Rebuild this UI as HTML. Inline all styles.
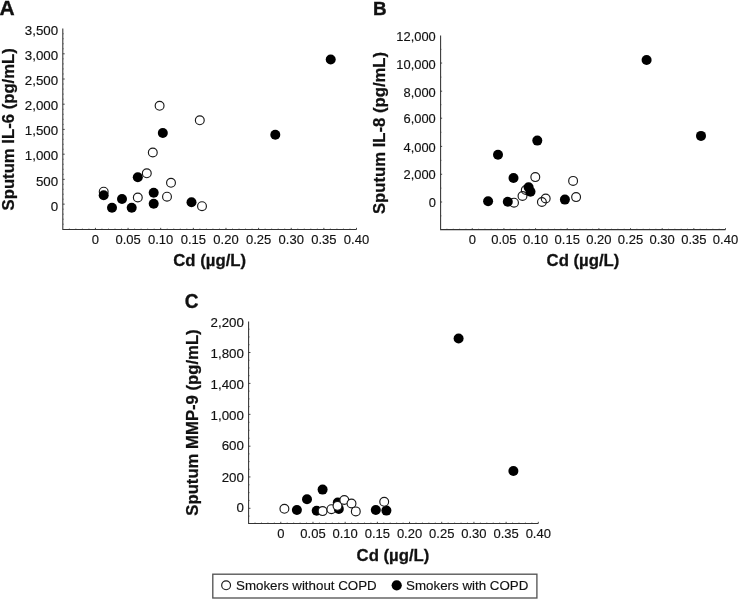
<!DOCTYPE html>
<html lang="en">
<head>
<meta charset="utf-8">
<title>Figure</title>
<style>
html,body{margin:0;padding:0;background:#fff;}
body{width:738px;height:599px;overflow:hidden;}
svg{display:block;font-family:'Liberation Sans', Arial, Helvetica, sans-serif;}
</style>
</head>
<body>
<svg width="738" height="599" viewBox="0 0 738 599">
<rect width="738" height="599" fill="#fff"/>
<g>
<text transform="translate(-0.5 14.8) scale(1.0 1)" font-size="21" font-weight="bold" fill="#111" stroke="#111" stroke-width="0.35">A</text>
<path d="M62.8 28.4V229.55H356.5" fill="none" stroke="#333" stroke-width="1.05"/>
<path d="M95.43 229.55v-1.70M128.07 229.55v-1.70M160.70 229.55v-1.70M193.33 229.55v-1.70M225.97 229.55v-1.70M258.60 229.55v-1.70M291.23 229.55v-1.70M323.87 229.55v-1.70M356.50 229.55v-1.70" stroke="#333" stroke-width="0.9" fill="none"/>
<path d="M69.33 229.55v-1.19M75.85 229.55v-1.19M82.38 229.55v-1.19M88.91 229.55v-1.19M101.96 229.55v-1.19M108.49 229.55v-1.19M115.01 229.55v-1.19M121.54 229.55v-1.19M134.59 229.55v-1.19M141.12 229.55v-1.19M147.65 229.55v-1.19M154.17 229.55v-1.19M167.23 229.55v-1.19M173.75 229.55v-1.19M180.28 229.55v-1.19M186.81 229.55v-1.19M199.86 229.55v-1.19M206.39 229.55v-1.19M212.91 229.55v-1.19M219.44 229.55v-1.19M232.49 229.55v-1.19M239.02 229.55v-1.19M245.55 229.55v-1.19M252.07 229.55v-1.19M265.13 229.55v-1.19M271.65 229.55v-1.19M278.18 229.55v-1.19M284.71 229.55v-1.19M297.76 229.55v-1.19M304.29 229.55v-1.19M310.81 229.55v-1.19M317.34 229.55v-1.19M330.39 229.55v-1.19M336.92 229.55v-1.19M343.45 229.55v-1.19M349.97 229.55v-1.19" stroke="#333" stroke-width="0.8" fill="none" opacity="0.6"/>
<path d="M62.8 53.80h1.87M62.8 79.00h1.87M62.8 104.20h1.87M62.8 129.40h1.87M62.8 154.20h1.87M62.8 179.35h1.87M62.8 204.15h1.87" stroke="#333" stroke-width="0.9" fill="none"/>
<path d="M62.8 33.75h1.19M62.8 38.76h1.19M62.8 43.78h1.19M62.8 48.79h1.19M62.8 58.84h1.19M62.8 63.88h1.19M62.8 68.92h1.19M62.8 73.96h1.19M62.8 84.04h1.19M62.8 89.08h1.19M62.8 94.12h1.19M62.8 99.16h1.19M62.8 109.24h1.19M62.8 114.28h1.19M62.8 119.32h1.19M62.8 124.36h1.19M62.8 134.36h1.19M62.8 139.32h1.19M62.8 144.28h1.19M62.8 149.24h1.19M62.8 159.23h1.19M62.8 164.26h1.19M62.8 169.29h1.19M62.8 174.32h1.19M62.8 184.31h1.19M62.8 189.27h1.19M62.8 194.23h1.19M62.8 199.19h1.19M62.8 209.16h1.19M62.8 214.17h1.19M62.8 219.19h1.19M62.8 224.20h1.19" stroke="#333" stroke-width="0.8" fill="none" opacity="0.6"/>
<g font-size="13.33" text-anchor="end" fill="#111" stroke="#111" stroke-width="0.15">
<text x="58.2" y="34.60">3,500</text>
<text x="58.2" y="59.80">3,000</text>
<text x="58.2" y="85.10">2,500</text>
<text x="58.2" y="110.45">2,000</text>
<text x="58.2" y="135.45">1,500</text>
<text x="58.2" y="160.45">1,000</text>
<text x="58.2" y="185.80">500</text>
<text x="58.2" y="210.60">0</text>
</g>
<g font-size="13.0" text-anchor="middle" fill="#111" stroke="#111" stroke-width="0.15">
<text x="95.43" y="244.0">0</text>
<text x="128.07" y="244.0">0.05</text>
<text x="160.70" y="244.0">0.10</text>
<text x="193.33" y="244.0">0.15</text>
<text x="225.97" y="244.0">0.20</text>
<text x="258.60" y="244.0">0.25</text>
<text x="291.23" y="244.0">0.30</text>
<text x="323.87" y="244.0">0.35</text>
<text x="356.50" y="244.0">0.40</text>
</g>
<text transform="translate(14.3 129.3) rotate(-90) scale(1 1.0)" font-size="16.7" font-weight="bold" text-anchor="middle" fill="#111" stroke="#111" stroke-width="0.25">Sputum IL-6 (pg/mL)</text>
<text transform="translate(209.7 265.6) scale(1.07 1)" font-size="15.65" font-weight="bold" text-anchor="middle" fill="#111" stroke="#111" stroke-width="0.25">Cd (µg/L)</text>
<circle cx="103.7" cy="191.7" r="4.42" fill="none" stroke="#1a1a1a" stroke-width="1.15"/>
<circle cx="137.8" cy="197.5" r="4.42" fill="none" stroke="#1a1a1a" stroke-width="1.15"/>
<circle cx="146.8" cy="173.3" r="4.42" fill="none" stroke="#1a1a1a" stroke-width="1.15"/>
<circle cx="152.8" cy="152.5" r="4.42" fill="none" stroke="#1a1a1a" stroke-width="1.15"/>
<circle cx="167" cy="196.7" r="4.42" fill="none" stroke="#1a1a1a" stroke-width="1.15"/>
<circle cx="171" cy="182.8" r="4.42" fill="none" stroke="#1a1a1a" stroke-width="1.15"/>
<circle cx="159.6" cy="105.8" r="4.42" fill="none" stroke="#1a1a1a" stroke-width="1.15"/>
<circle cx="199.8" cy="120.3" r="4.42" fill="none" stroke="#1a1a1a" stroke-width="1.15"/>
<circle cx="202" cy="206.2" r="4.42" fill="none" stroke="#1a1a1a" stroke-width="1.15"/>
<circle cx="103.7" cy="195.3" r="5.0" fill="#000"/>
<circle cx="112" cy="207.8" r="5.0" fill="#000"/>
<circle cx="122" cy="199" r="5.0" fill="#000"/>
<circle cx="131.7" cy="207.8" r="5.0" fill="#000"/>
<circle cx="137.8" cy="177.2" r="5.0" fill="#000"/>
<circle cx="153.7" cy="192.8" r="5.0" fill="#000"/>
<circle cx="153.7" cy="203.8" r="5.0" fill="#000"/>
<circle cx="162.8" cy="133" r="5.0" fill="#000"/>
<circle cx="330.7" cy="59.5" r="5.0" fill="#000"/>
<circle cx="275.3" cy="134.8" r="5.0" fill="#000"/>
<circle cx="191.5" cy="202.3" r="5.0" fill="#000"/>
</g>
<g>
<text transform="translate(373.1 14.8) scale(1.03 1)" font-size="18.3" font-weight="bold" fill="#111" stroke="#111" stroke-width="0.35">B</text>
<path d="M440.6 35.6V229.6H725.5" fill="none" stroke="#333" stroke-width="1.05"/>
<path d="M472.26 229.6v-1.40M503.91 229.6v-1.40M535.57 229.6v-1.40M567.22 229.6v-1.40M598.88 229.6v-1.40M630.53 229.6v-1.40M662.19 229.6v-1.40M693.84 229.6v-1.40M725.50 229.6v-1.40" stroke="#333" stroke-width="0.9" fill="none"/>
<path d="M446.93 229.6v-0.98M453.26 229.6v-0.98M459.59 229.6v-0.98M465.92 229.6v-0.98M478.59 229.6v-0.98M484.92 229.6v-0.98M491.25 229.6v-0.98M497.58 229.6v-0.98M510.24 229.6v-0.98M516.57 229.6v-0.98M522.90 229.6v-0.98M529.24 229.6v-0.98M541.90 229.6v-0.98M548.23 229.6v-0.98M554.56 229.6v-0.98M560.89 229.6v-0.98M573.55 229.6v-0.98M579.88 229.6v-0.98M586.22 229.6v-0.98M592.55 229.6v-0.98M605.21 229.6v-0.98M611.54 229.6v-0.98M617.87 229.6v-0.98M624.20 229.6v-0.98M636.86 229.6v-0.98M643.20 229.6v-0.98M649.53 229.6v-0.98M655.86 229.6v-0.98M668.52 229.6v-0.98M674.85 229.6v-0.98M681.18 229.6v-0.98M687.51 229.6v-0.98M700.18 229.6v-0.98M706.51 229.6v-0.98M712.84 229.6v-0.98M719.17 229.6v-0.98" stroke="#333" stroke-width="0.8" fill="none" opacity="0.6"/>
<path d="M440.6 63.05h1.54M440.6 91.20h1.54M440.6 118.20h1.54M440.6 146.40h1.54M440.6 174.27h1.54M440.6 202.00h1.54" stroke="#333" stroke-width="0.9" fill="none"/>
<path d="M440.6 49.33h0.98M440.6 77.12h0.98M440.6 104.70h0.98M440.6 132.30h0.98M440.6 160.34h0.98M440.6 188.13h0.98M440.6 215.87h0.98" stroke="#333" stroke-width="0.8" fill="none" opacity="0.6"/>
<g font-size="12.9" text-anchor="end" fill="#111" stroke="#111" stroke-width="0.15">
<text x="435.8" y="40.80">12,000</text>
<text x="435.8" y="68.85">10,000</text>
<text x="435.8" y="96.60">8,000</text>
<text x="435.8" y="123.45">6,000</text>
<text x="435.8" y="151.60">4,000</text>
<text x="435.8" y="179.25">2,000</text>
<text x="435.8" y="207.45">0</text>
</g>
<g font-size="13.0" text-anchor="middle" fill="#111" stroke="#111" stroke-width="0.15">
<text x="472.26" y="244.0">0</text>
<text x="503.91" y="244.0">0.05</text>
<text x="535.57" y="244.0">0.10</text>
<text x="567.22" y="244.0">0.15</text>
<text x="598.88" y="244.0">0.20</text>
<text x="630.53" y="244.0">0.25</text>
<text x="662.19" y="244.0">0.30</text>
<text x="693.84" y="244.0">0.35</text>
<text x="725.50" y="244.0">0.40</text>
</g>
<text transform="translate(385.3 133.0) rotate(-90) scale(1 1.0)" font-size="16.7" font-weight="bold" text-anchor="middle" fill="#111" stroke="#111" stroke-width="0.25">Sputum IL-8 (pg/mL)</text>
<text transform="translate(583 266.1) scale(1.07 1)" font-size="15.65" font-weight="bold" text-anchor="middle" fill="#111" stroke="#111" stroke-width="0.25">Cd (µg/L)</text>
<circle cx="535.3" cy="177.1" r="4.42" fill="none" stroke="#1a1a1a" stroke-width="1.15"/>
<circle cx="525.8" cy="190" r="4.42" fill="none" stroke="#1a1a1a" stroke-width="1.15"/>
<circle cx="522.5" cy="196" r="4.42" fill="none" stroke="#1a1a1a" stroke-width="1.15"/>
<circle cx="514" cy="202.7" r="4.42" fill="none" stroke="#1a1a1a" stroke-width="1.15"/>
<circle cx="541.9" cy="202" r="4.42" fill="none" stroke="#1a1a1a" stroke-width="1.15"/>
<circle cx="545.7" cy="198.5" r="4.42" fill="none" stroke="#1a1a1a" stroke-width="1.15"/>
<circle cx="573.1" cy="180.9" r="4.42" fill="none" stroke="#1a1a1a" stroke-width="1.15"/>
<circle cx="576.1" cy="197.1" r="4.42" fill="none" stroke="#1a1a1a" stroke-width="1.15"/>
<circle cx="537.3" cy="140.6" r="5.0" fill="#000"/>
<circle cx="498" cy="154.8" r="5.0" fill="#000"/>
<circle cx="513.5" cy="178" r="5.0" fill="#000"/>
<circle cx="528.6" cy="187.3" r="5.0" fill="#000"/>
<circle cx="530.5" cy="191.8" r="5.0" fill="#000"/>
<circle cx="488.1" cy="201.2" r="5.0" fill="#000"/>
<circle cx="507.8" cy="201.7" r="5.0" fill="#000"/>
<circle cx="646.6" cy="60.0" r="5.0" fill="#000"/>
<circle cx="701.0" cy="135.9" r="5.0" fill="#000"/>
<circle cx="564.9" cy="199.6" r="5.0" fill="#000"/>
</g>
<g>
<text transform="translate(184.7 308.15) scale(0.96 1)" font-size="19.8" font-weight="bold" fill="#111" stroke="#111" stroke-width="0.35">C</text>
<path d="M248.6 321.4V523.5H538.3" fill="none" stroke="#333" stroke-width="1.05"/>
<path d="M280.79 523.5v-1.70M312.98 523.5v-1.70M345.17 523.5v-1.70M377.36 523.5v-1.70M409.54 523.5v-1.70M441.73 523.5v-1.70M473.92 523.5v-1.70M506.11 523.5v-1.70M538.30 523.5v-1.70" stroke="#333" stroke-width="0.9" fill="none"/>
<path d="M255.04 523.5v-1.19M261.48 523.5v-1.19M267.91 523.5v-1.19M274.35 523.5v-1.19M287.23 523.5v-1.19M293.66 523.5v-1.19M300.10 523.5v-1.19M306.54 523.5v-1.19M319.42 523.5v-1.19M325.85 523.5v-1.19M332.29 523.5v-1.19M338.73 523.5v-1.19M351.60 523.5v-1.19M358.04 523.5v-1.19M364.48 523.5v-1.19M370.92 523.5v-1.19M383.79 523.5v-1.19M390.23 523.5v-1.19M396.67 523.5v-1.19M403.11 523.5v-1.19M415.98 523.5v-1.19M422.42 523.5v-1.19M428.86 523.5v-1.19M435.30 523.5v-1.19M448.17 523.5v-1.19M454.61 523.5v-1.19M461.05 523.5v-1.19M467.48 523.5v-1.19M480.36 523.5v-1.19M486.80 523.5v-1.19M493.24 523.5v-1.19M499.67 523.5v-1.19M512.55 523.5v-1.19M518.99 523.5v-1.19M525.42 523.5v-1.19M531.86 523.5v-1.19" stroke="#333" stroke-width="0.8" fill="none" opacity="0.6"/>
<path d="M248.6 352.50h1.87M248.6 383.40h1.87M248.6 414.35h1.87M248.6 446.20h1.87M248.6 476.95h1.87M248.6 508.30h1.87" stroke="#333" stroke-width="0.9" fill="none"/>
<path d="M248.6 329.17h1.19M248.6 336.95h1.19M248.6 344.73h1.19M248.6 360.23h1.19M248.6 367.95h1.19M248.6 375.67h1.19M248.6 391.14h1.19M248.6 398.88h1.19M248.6 406.61h1.19M248.6 422.31h1.19M248.6 430.27h1.19M248.6 438.24h1.19M248.6 453.89h1.19M248.6 461.57h1.19M248.6 469.26h1.19M248.6 484.79h1.19M248.6 492.62h1.19M248.6 500.46h1.19M248.6 516.09h1.19" stroke="#333" stroke-width="0.8" fill="none" opacity="0.6"/>
<g font-size="13.33" text-anchor="end" fill="#111" stroke="#111" stroke-width="0.15">
<text x="243.9" y="326.60">2,200</text>
<text x="243.9" y="358.35">1,800</text>
<text x="243.9" y="389.45">1,400</text>
<text x="243.9" y="420.00">1,000</text>
<text x="243.9" y="449.65">600</text>
<text x="243.9" y="481.60">200</text>
<text x="243.9" y="512.35">0</text>
</g>
<g font-size="13.0" text-anchor="middle" fill="#111" stroke="#111" stroke-width="0.15">
<text x="280.79" y="538.2">0</text>
<text x="312.98" y="538.2">0.05</text>
<text x="345.17" y="538.2">0.10</text>
<text x="377.36" y="538.2">0.15</text>
<text x="409.54" y="538.2">0.20</text>
<text x="441.73" y="538.2">0.25</text>
<text x="473.92" y="538.2">0.30</text>
<text x="506.11" y="538.2">0.35</text>
<text x="538.30" y="538.2">0.40</text>
</g>
<text transform="translate(197.6 422.5) rotate(-90) scale(1 1.0)" font-size="16.7" font-weight="bold" text-anchor="middle" fill="#111" stroke="#111" stroke-width="0.25">Sputum MMP-9 (pg/mL)</text>
<text transform="translate(393 560.7) scale(1.07 1)" font-size="15.65" font-weight="bold" text-anchor="middle" fill="#111" stroke="#111" stroke-width="0.25">Cd (µg/L)</text>
<circle cx="284.4" cy="508.8" r="4.42" fill="#fff" stroke="#1a1a1a" stroke-width="1.15"/>
<circle cx="296.9" cy="510" r="5.0" fill="#000"/>
<circle cx="307" cy="499.3" r="5.0" fill="#000"/>
<circle cx="316.7" cy="510.8" r="5.0" fill="#000"/>
<circle cx="322.6" cy="511.1" r="4.42" fill="#fff" stroke="#1a1a1a" stroke-width="1.15"/>
<circle cx="322.6" cy="489.6" r="5.0" fill="#000"/>
<circle cx="331.4" cy="509.2" r="4.42" fill="#fff" stroke="#1a1a1a" stroke-width="1.15"/>
<circle cx="337.8" cy="502.5" r="5.0" fill="#000"/>
<circle cx="338.8" cy="508.9" r="5.0" fill="#000"/>
<circle cx="337.5" cy="505.8" r="4.42" fill="#fff" stroke="#1a1a1a" stroke-width="1.15"/>
<circle cx="344.3" cy="500" r="4.42" fill="#fff" stroke="#1a1a1a" stroke-width="1.15"/>
<circle cx="351.5" cy="503.5" r="4.42" fill="#fff" stroke="#1a1a1a" stroke-width="1.15"/>
<circle cx="355.8" cy="511.4" r="4.42" fill="#fff" stroke="#1a1a1a" stroke-width="1.15"/>
<circle cx="458.6" cy="338.5" r="5.0" fill="#000"/>
<circle cx="513.4" cy="471.0" r="5.0" fill="#000"/>
<circle cx="375.8" cy="510" r="5.0" fill="#000"/>
<circle cx="386.4" cy="510.6" r="5.0" fill="#000"/>
<circle cx="384.2" cy="501.8" r="4.42" fill="#fff" stroke="#1a1a1a" stroke-width="1.15"/>
</g>
<rect x="212.8" y="574.2" width="324.1" height="23.8" fill="#fff" stroke="#555" stroke-width="1.35"/>
<circle cx="226.1" cy="585.3" r="4.42" fill="#fff" stroke="#1a1a1a" stroke-width="1.15"/>
<circle cx="396.7" cy="585.3" r="5.1" fill="#000"/>
<g font-size="13.33" fill="#111" stroke="#111" stroke-width="0.15">
<text x="236.0" y="589.9">Smokers without COPD</text>
<text x="406.1" y="589.9">Smokers with COPD</text>
</g>
</svg>
</body>
</html>
